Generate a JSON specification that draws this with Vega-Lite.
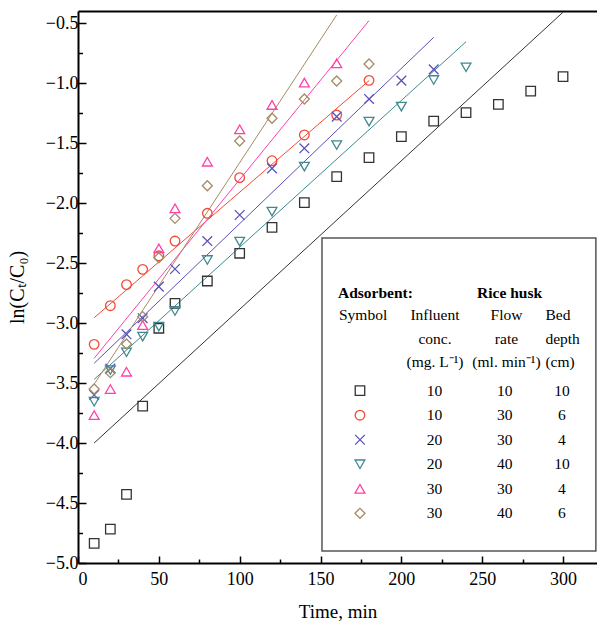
{
  "$schema": "https://vega.github.io/schema/vega-lite/v6.json",
  "width": 519,
  "height": 552,
  "autosize": {"type": "none"},
  "padding": {"left": 78, "top": 11, "right": 0, "bottom": 61},
  "config": {
    "view": {"stroke": null},
    "font": "Liberation Serif",
    "axis": {
      "grid": false,
      "domainColor": "black",
      "tickColor": "black",
      "labelColor": "black",
      "titleColor": "black",
      "labelFont": "Liberation Serif",
      "titleFont": "Liberation Serif",
      "labelFontSize": 18,
      "titleFontSize": 19,
      "titleFontWeight": "normal",
      "domainWidth": 2,
      "tickWidth": 1.5
    }
  },
  "datasets": {
    "points": [
      {"series": "10-10-10", "t": 10, "v": -4.836},
      {"series": "10-10-10", "t": 20, "v": -4.717},
      {"series": "10-10-10", "t": 30, "v": -4.428},
      {"series": "10-10-10", "t": 40, "v": -3.692},
      {"series": "10-10-10", "t": 50, "v": -3.044},
      {"series": "10-10-10", "t": 60, "v": -2.836},
      {"series": "10-10-10", "t": 80, "v": -2.65},
      {"series": "10-10-10", "t": 100, "v": -2.419},
      {"series": "10-10-10", "t": 120, "v": -2.203},
      {"series": "10-10-10", "t": 140, "v": -1.997},
      {"series": "10-10-10", "t": 160, "v": -1.78},
      {"series": "10-10-10", "t": 180, "v": -1.622},
      {"series": "10-10-10", "t": 200, "v": -1.447},
      {"series": "10-10-10", "t": 220, "v": -1.317},
      {"series": "10-10-10", "t": 240, "v": -1.247},
      {"series": "10-10-10", "t": 260, "v": -1.178},
      {"series": "10-10-10", "t": 280, "v": -1.067},
      {"series": "10-10-10", "t": 300, "v": -0.947},
      {"series": "10-30-6", "t": 10, "v": -3.178},
      {"series": "10-30-6", "t": 20, "v": -2.856},
      {"series": "10-30-6", "t": 30, "v": -2.68},
      {"series": "10-30-6", "t": 40, "v": -2.553},
      {"series": "10-30-6", "t": 50, "v": -2.44},
      {"series": "10-30-6", "t": 60, "v": -2.317},
      {"series": "10-30-6", "t": 80, "v": -2.086},
      {"series": "10-30-6", "t": 100, "v": -1.789},
      {"series": "10-30-6", "t": 120, "v": -1.648},
      {"series": "10-30-6", "t": 140, "v": -1.433},
      {"series": "10-30-6", "t": 160, "v": -1.267},
      {"series": "10-30-6", "t": 180, "v": -0.978},
      {"series": "20-30-4", "t": 10, "v": -3.6},
      {"series": "20-30-4", "t": 20, "v": -3.38},
      {"series": "20-30-4", "t": 30, "v": -3.094},
      {"series": "20-30-4", "t": 40, "v": -2.96},
      {"series": "20-30-4", "t": 50, "v": -2.697},
      {"series": "20-30-4", "t": 60, "v": -2.55},
      {"series": "20-30-4", "t": 80, "v": -2.317},
      {"series": "20-30-4", "t": 100, "v": -2.1},
      {"series": "20-30-4", "t": 120, "v": -1.711},
      {"series": "20-30-4", "t": 140, "v": -1.544},
      {"series": "20-30-4", "t": 160, "v": -1.28},
      {"series": "20-30-4", "t": 180, "v": -1.133},
      {"series": "20-30-4", "t": 200, "v": -0.98},
      {"series": "20-30-4", "t": 220, "v": -0.886},
      {"series": "20-40-10", "t": 10, "v": -3.656},
      {"series": "20-40-10", "t": 20, "v": -3.392},
      {"series": "20-40-10", "t": 30, "v": -3.244},
      {"series": "20-40-10", "t": 40, "v": -3.114},
      {"series": "20-40-10", "t": 50, "v": -3.03},
      {"series": "20-40-10", "t": 60, "v": -2.9},
      {"series": "20-40-10", "t": 80, "v": -2.475},
      {"series": "20-40-10", "t": 100, "v": -2.322},
      {"series": "20-40-10", "t": 120, "v": -2.072},
      {"series": "20-40-10", "t": 140, "v": -1.697},
      {"series": "20-40-10", "t": 160, "v": -1.517},
      {"series": "20-40-10", "t": 180, "v": -1.322},
      {"series": "20-40-10", "t": 200, "v": -1.197},
      {"series": "20-40-10", "t": 220, "v": -0.975},
      {"series": "20-40-10", "t": 240, "v": -0.869},
      {"series": "30-30-4", "t": 10, "v": -3.767},
      {"series": "30-30-4", "t": 20, "v": -3.55},
      {"series": "30-30-4", "t": 30, "v": -3.406},
      {"series": "30-30-4", "t": 40, "v": -3.017},
      {"series": "30-30-4", "t": 50, "v": -2.378},
      {"series": "30-30-4", "t": 60, "v": -2.044},
      {"series": "30-30-4", "t": 80, "v": -1.656},
      {"series": "30-30-4", "t": 100, "v": -1.386},
      {"series": "30-30-4", "t": 120, "v": -1.183},
      {"series": "30-30-4", "t": 140, "v": -0.997},
      {"series": "30-30-4", "t": 160, "v": -0.836},
      {"series": "30-40-6", "t": 10, "v": -3.55},
      {"series": "30-40-6", "t": 20, "v": -3.414},
      {"series": "30-40-6", "t": 30, "v": -3.175},
      {"series": "30-40-6", "t": 40, "v": -2.947},
      {"series": "30-40-6", "t": 50, "v": -2.456},
      {"series": "30-40-6", "t": 60, "v": -2.128},
      {"series": "30-40-6", "t": 80, "v": -1.856},
      {"series": "30-40-6", "t": 100, "v": -1.483},
      {"series": "30-40-6", "t": 120, "v": -1.294},
      {"series": "30-40-6", "t": 140, "v": -1.133},
      {"series": "30-40-6", "t": 160, "v": -0.983},
      {"series": "30-40-6", "t": 180, "v": -0.842}
    ],
    "fits": [
      {"series": "10-10-10", "t": 10, "v": -4.0},
      {"series": "10-10-10", "t": 300, "v": -0.41},
      {"series": "10-30-6", "t": 10, "v": -2.956},
      {"series": "10-30-6", "t": 180, "v": -0.98},
      {"series": "20-30-4", "t": 10, "v": -3.336},
      {"series": "20-30-4", "t": 220, "v": -0.62},
      {"series": "20-40-10", "t": 10, "v": -3.47},
      {"series": "20-40-10", "t": 240, "v": -0.656},
      {"series": "30-30-4", "t": 10, "v": -3.294},
      {"series": "30-30-4", "t": 180, "v": -0.48},
      {"series": "30-40-6", "t": 10, "v": -3.51},
      {"series": "30-40-6", "t": 160, "v": -0.433}
    ],
    "legendRows": [
      {"series": "10-10-10", "conc": "10", "flow": "10", "depth": "10"},
      {"series": "10-30-6", "conc": "10", "flow": "30", "depth": "6"},
      {"series": "20-30-4", "conc": "20", "flow": "30", "depth": "4"},
      {"series": "20-40-10", "conc": "20", "flow": "40", "depth": "10"},
      {"series": "30-30-4", "conc": "30", "flow": "30", "depth": "4"},
      {"series": "30-40-6", "conc": "30", "flow": "40", "depth": "6"}
    ],
    "legendHeader": [
      {"col": "title", "text": "Adsorbent:"},
      {"col": "husk", "text": "Rice husk"},
      {"col": "symbol", "text": "Symbol"},
      {"col": "conc", "text": "Influent\nconc.\n(mg. L⁻¹)"},
      {"col": "flow", "text": "Flow\nrate\n(ml. min⁻¹)"},
      {"col": "depth", "text": "Bed\ndepth\n(cm)"}
    ]
  },
  "layer": [
    {
      "layer": [
        {
          "data": {"name": "fits"},
          "mark": {"type": "line", "strokeWidth": 1, "clip": true},
          "encoding": {
            "x": {"field": "t", "type": "quantitative", "scale": {"domain": [0, 321], "nice": false},
              "axis": {"orient": "bottom", "values": [0, 50, 100, 150, 200, 250, 300], "format": "d", "title": "Time, min", "tickSize": -7, "labelPadding": 14, "titlePadding": 14}},
            "y": {"field": "v", "type": "quantitative", "scale": {"domain": [-5, -0.4], "nice": false, "zero": false},
              "axis": {"orient": "left", "values": [-5, -4.5, -4, -3.5, -3, -2.5, -2, -1.5, -1, -0.5], "format": ".1f", "title": "ln(Cₜ/C₀)", "titleFontSize": 20, "tickSize": -8, "labelPadding": 8, "titlePadding": 18}},
            "color": {"field": "series", "type": "nominal",
              "scale": {"domain": ["10-10-10", "10-30-6", "20-30-4", "20-40-10", "30-30-4", "30-40-6"], "range": ["#333333", "#f24a35", "#5a52b8", "#3f8a8f", "#ff40a8", "#a48c64"]}, "legend": null},
            "detail": {"field": "series"}
          }
        },
        {
          "data": {"name": "points"},
          "mark": {"type": "point", "filled": false, "strokeWidth": 1.3, "opacity": 1},
          "encoding": {
            "x": {"field": "t", "type": "quantitative", "scale": {"domain": [0, 321], "nice": false}},
            "y": {"field": "v", "type": "quantitative", "scale": {"domain": [-5, -0.4], "nice": false, "zero": false}},
            "color": {"field": "series", "type": "nominal", "legend": null},
            "shape": {"field": "series", "type": "nominal",
              "scale": {"domain": ["10-10-10", "10-30-6", "20-30-4", "20-40-10", "30-30-4", "30-40-6"], "range": ["square", "circle", "M-1,-1L1,1M-1,1L1,-1", "triangle-down", "triangle-up", "diamond"]}, "legend": null},
            "size": {"field": "series", "type": "nominal",
              "scale": {"domain": ["10-10-10", "10-30-6", "20-30-4", "20-40-10", "30-30-4", "30-40-6"], "range": [90, 100, 160, 130, 130, 120]}, "legend": null}
          }
        }
      ]
    },
    {
      "data": {"name": "points"},
      "mark": {"type": "point", "opacity": 0},
      "encoding": {
        "x": {"field": "t", "type": "quantitative", "scale": {"domain": [0, 321], "nice": false},
          "axis": {"orient": "bottom", "values": [25, 75, 125, 175, 225, 275], "labels": false, "domain": false, "tickSize": -4, "title": null}},
        "y": {"field": "v", "type": "quantitative", "scale": {"domain": [-5, -0.4], "nice": false, "zero": false},
          "axis": {"orient": "left", "values": [-4.75, -4.25, -3.75, -3.25, -2.75, -2.25, -1.75, -1.25, -0.75], "labels": false, "domain": false, "tickSize": -4.5, "title": null}}
      }
    },
    {
      "data": {"name": "points"},
      "mark": {"type": "point", "opacity": 0},
      "encoding": {
        "x": {"field": "t", "type": "quantitative", "scale": {"domain": [0, 321], "nice": false},
          "axis": {"orient": "top", "ticks": false, "labels": false, "title": null, "domainWidth": 2}},
        "y": {"field": "v", "type": "quantitative", "scale": {"domain": [-5, -0.4], "nice": false, "zero": false}, "axis": null}
      }
    },
    {
      "data": {"name": "legendHeader"},
      "layer": [
        {
          "transform": [{"filter": "datum.col == 'title'"}],
          "mark": {"type": "rect", "fill": "white", "stroke": "#555555", "strokeWidth": 1.5},
          "encoding": {
            "x": {"datum": 150.9, "type": "quantitative", "scale": {"domain": [0, 321], "nice": false}, "axis": null},
            "x2": {"datum": 320.3},
            "y": {"datum": -2.292, "type": "quantitative", "scale": {"domain": [-5, -0.4], "nice": false, "zero": false}, "axis": null},
            "y2": {"datum": -4.9}
          }
        },
        {
          "transform": [{"filter": "datum.col == 'title'"}],
          "mark": {"type": "text", "align": "left", "baseline": "alphabetic", "fontSize": 15.5, "fontWeight": "bold", "font": "Liberation Serif", "color": "black"},
          "encoding": {"x": {"datum": 160.8, "type": "quantitative"}, "y": {"datum": -2.788, "type": "quantitative"}, "text": {"field": "text"}}
        },
        {
          "transform": [{"filter": "datum.col == 'husk'"}],
          "mark": {"type": "text", "align": "left", "baseline": "alphabetic", "fontSize": 15.5, "fontWeight": "bold", "font": "Liberation Serif", "color": "black"},
          "encoding": {"x": {"datum": 246.8, "type": "quantitative"}, "y": {"datum": -2.788, "type": "quantitative"}, "text": {"field": "text"}}
        },
        {
          "transform": [{"filter": "datum.col == 'symbol'"}],
          "mark": {"type": "text", "align": "left", "baseline": "alphabetic", "fontSize": 15.5, "font": "Liberation Serif", "color": "black"},
          "encoding": {"x": {"datum": 161.4, "type": "quantitative"}, "y": {"datum": -2.975, "type": "quantitative"}, "text": {"field": "text"}}
        },
        {
          "transform": [{"filter": "datum.col == 'conc'"}],
          "mark": {"type": "text", "align": "center", "baseline": "alphabetic", "fontSize": 15.5, "font": "Liberation Serif", "color": "black", "lineBreak": "\n", "lineHeight": 23.5},
          "encoding": {"x": {"datum": 220.8, "type": "quantitative"}, "y": {"datum": -2.975, "type": "quantitative"}, "text": {"field": "text"}}
        },
        {
          "transform": [{"filter": "datum.col == 'flow'"}],
          "mark": {"type": "text", "align": "center", "baseline": "alphabetic", "fontSize": 15.5, "font": "Liberation Serif", "color": "black", "lineBreak": "\n", "lineHeight": 23.5},
          "encoding": {"x": {"datum": 265, "type": "quantitative"}, "y": {"datum": -2.975, "type": "quantitative"}, "text": {"field": "text"}}
        },
        {
          "transform": [{"filter": "datum.col == 'depth'"}],
          "mark": {"type": "text", "align": "left", "baseline": "alphabetic", "fontSize": 15.5, "font": "Liberation Serif", "color": "black", "lineBreak": "\n", "lineHeight": 23.5},
          "encoding": {"x": {"datum": 289.1, "type": "quantitative"}, "y": {"datum": -2.975, "type": "quantitative"}, "text": {"field": "text"}}
        }
      ]
    },
    {
      "data": {"name": "legendRows"},
      "encoding": {
        "y": {"field": "series", "type": "nominal",
          "scale": {"type": "point", "domain": ["10-10-10", "10-30-6", "20-30-4", "20-40-10", "30-30-4", "30-40-6"], "range": [379.7, 502.3], "padding": 0},
          "axis": null}
      },
      "layer": [
        {
          "mark": {"type": "point", "filled": false, "strokeWidth": 1.3, "opacity": 1},
          "encoding": {
            "x": {"datum": 174.4, "type": "quantitative", "scale": {"domain": [0, 321], "nice": false}, "axis": null},
            "color": {"field": "series", "type": "nominal", "legend": null},
            "shape": {"field": "series", "type": "nominal", "legend": null},
            "size": {"field": "series", "type": "nominal", "legend": null}
          }
        },
        {
          "mark": {"type": "text", "align": "center", "baseline": "middle", "fontSize": 15.5, "font": "Liberation Serif", "color": "black"},
          "encoding": {"x": {"datum": 220.5, "type": "quantitative"}, "text": {"field": "conc"}}
        },
        {
          "mark": {"type": "text", "align": "center", "baseline": "middle", "fontSize": 15.5, "font": "Liberation Serif", "color": "black"},
          "encoding": {"x": {"datum": 264, "type": "quantitative"}, "text": {"field": "flow"}}
        },
        {
          "mark": {"type": "text", "align": "center", "baseline": "middle", "fontSize": 15.5, "font": "Liberation Serif", "color": "black"},
          "encoding": {"x": {"datum": 299.3, "type": "quantitative"}, "text": {"field": "depth"}}
        }
      ]
    }
  ],
  "resolve": {"scale": {"x": "independent", "y": "independent"}}
}
